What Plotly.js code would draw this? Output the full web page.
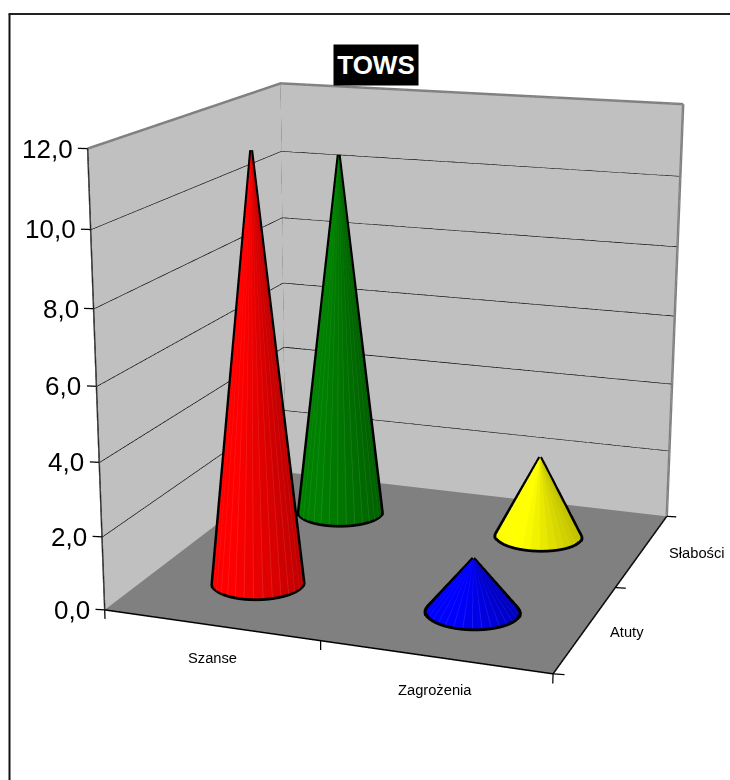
<!DOCTYPE html>
<html><head><meta charset="utf-8">
<script src="https://cdn.plot.ly/plotly-3.0.1.min.js"></script>
<style>html,body{margin:0;padding:0;background:#fff;overflow:hidden}
#w{position:relative;width:730px;height:780px;overflow:hidden}
#c{position:absolute;left:-526px;top:-498px;width:1799px;height:1799px}</style></head>
<body><div id="w"><div id="c"></div></div>
<script>
const categories = ["Szanse", "Zagrożenia"];
const depthLabels = ["Atuty", "Słabości"];
const valueTicks = [0, 2, 4, 6, 8, 10, 12];
const tickLabels = ["0,0", "2,0", "4,0", "6,0", "8,0", "10,0", "12,0"];
const atutyValues = [11.65, 1.5];
const slabosciValues = [10.55, 2.38];
const atutyColors = [[255, 0, 0], [0, 0, 255]];
const slabosciColors = [[0, 128, 0], [255, 255, 0]];

const S = 1799, L = -526, T = -498;
const px = v => (v - L) / S, py = v => 1 - (v - T) / S;
const sx = 0.8991 / 2, sy = 0.9162 / 2, sz = 0.9 / 12;
const xr = [-0.15, 2.15], yr = [-0.15, 2.15], zr = [-0.6, 12.2];
const mid = r => (r[0] + r[1]) / 2;
const off = [(1 - mid(xr)) * sx, (1 - mid(yr)) * sy, (6 - mid(zr)) * sz];
const yaw = 0.3524, pitch = 0.2826;
const eyeRel = [1.3946, -3.9641, 1.1106];
const fwd = [-Math.sin(yaw) * Math.cos(pitch), Math.cos(yaw) * Math.cos(pitch), -Math.sin(pitch)];
const ctrRel = eyeRel.map((v, i) => v + 4 * fwd[i]);
const eyeFloor = [eyeRel[0], eyeRel[1], eyeRel[2] + 0.45];
const rightDir = [Math.cos(yaw), Math.sin(yaw)];
const R = 0.09, N = 30;

function cone(i, j, v, rgb) {
  const cx = i + 0.5, cy = j + 0.5;
  const xs = [cx], ys = [cy], zs = [v], a = [], b = [], c = [], fc = [];
  const step = 2 * Math.PI / N;
  const angles = [];
  for (let n = 0; n < N; n++) { angles.push([n * step, false]); angles.push([(n + 0.9) * step, true]); }
  angles.forEach(([t, seam], n) => {
    xs.push(cx + R * Math.cos(t) / sx); ys.push(cy + R * Math.sin(t) / sy); zs.push(0);
    a.push(0); b.push(n + 1); c.push((n + 1) % angles.length + 1);
    const s = Math.cos(t) * rightDir[0] + Math.sin(t) * rightDir[1];
    const f = 1 - 0.25 * Math.max(0, s + 0.6) / 1.6;
    const shade = q => Math.round(seam ? q * f + (255 - q * f) * 0.12 : q * f);
    fc.push("rgb(" + rgb.map(shade).join(",") + ")");
  });
  const mesh = {type: "mesh3d", x: xs, y: ys, z: zs, i: a, j: b, k: c, facecolor: fc,
    lighting: {ambient: 1, diffuse: 0, specular: 0, fresnel: 0}, hoverinfo: "skip", showscale: false};
  const ccx = (cx - 1) * sx, ccy = (cy - 1) * sy, H = v * sz;
  const f = eyeFloor[2] / (eyeFloor[2] - H);
  const ex = eyeFloor[0] + (ccx - eyeFloor[0]) * f, ey = eyeFloor[1] + (ccy - eyeFloor[1]) * f;
  const phi = Math.atan2(ey - ccy, ex - ccx), D = Math.hypot(ex - ccx, ey - ccy), al = Math.acos(R / D);
  const psi = Math.atan2(eyeFloor[1] - ccy, eyeFloor[0] - ccx);
  let a0 = phi + al, a1 = phi - al + 2 * Math.PI;
  if (Math.cos(psi - (a0 + a1) / 2) < 0) { a0 = phi - al; a1 = phi + al; }
  const ox = [cx], oy = [cy], oz = [v];
  for (let n = 0; n <= 30; n++) {
    const t = a0 + (a1 - a0) * n / 30;
    ox.push(cx + 1.01 * R * Math.cos(t) / sx); oy.push(cy + 1.01 * R * Math.sin(t) / sy); oz.push(0.02);
  }
  ox.push(cx); oy.push(cy); oz.push(v);
  return [mesh, {type: "scatter3d", mode: "lines", x: ox, y: oy, z: oz, line: {color: "#000", width: 8}, hoverinfo: "skip", showlegend: false}];
}
function quad(x, y, z, color) {
  return {type: "mesh3d", x, y, z, i: [0, 0], j: [1, 2], k: [2, 3], color,
    lighting: {ambient: 1, diffuse: 0, specular: 0, fresnel: 0}, hoverinfo: "skip"};
}
function line(x, y, z, color, width) {
  return {type: "scatter3d", mode: "lines", x, y, z, line: {color: color || "#000", width: width || 1}, hoverinfo: "skip", showlegend: false};
}
const zTop = valueTicks[valueTicks.length - 1];
const traces = [
  quad([0, 2, 2, 0], [0, 0, 2, 2], [0, 0, 0, 0], "#808080"),
  quad([0, 0, 0, 0], [0, 2, 2, 0], [0, 0, zTop, zTop], "#c0c0c0"),
  quad([0, 2, 2, 0], [2, 2, 2, 2], [0, 0, zTop, zTop], "#c0c0c0")
];
valueTicks.slice(1, -1).forEach(v => traces.push(line([0, 0, 2], [0, 2, 2], [v, v, v], "#000", 2.5)));
traces.push(line([0, 0, 2], [0, 2, 2], [zTop, zTop, zTop], "#808080", 5));
traces.push(line([0, 0], [2, 2], [0, zTop], "#808080", 5));
traces.push(line([2, 2], [2, 2], [0, zTop], "#808080", 5));
traces.push(line([0, 0], [0, 0], [0, zTop], "#222", 3));
traces.push(line([0, 2, 2], [0, 0, 2], [0, 0, 0], "#000", 3));
valueTicks.forEach(v => traces.push(line([0, -0.04], [0, -0.008], [v, v], "#000", 2.5)));
[0, 1, 2].forEach(x => traces.push(line([x, x], [0, 0], [0, -0.25], "#000", 2.5)));
[0, 1, 2].forEach(y => traces.push(line([2, 2.045], [y, y + 0.008], [0, 0], "#000", 2.5)));
[[0, atutyValues, atutyColors], [1, slabosciValues, slabosciColors]].forEach(([row, vals, cols]) => {
  vals.forEach((v, c) => cone(c, row, v, cols[c]).forEach(t => traces.push(t)));
});
const font = size => ({family: "Liberation Sans, Arial, sans-serif", size, color: "#000"});
const annotations = [];
valueTicks.forEach((v, n) => annotations.push({x: 0, y: 0, z: v, text: tickLabels[n], showarrow: false, xanchor: "right", xshift: -13, font: font(26)}));
categories.forEach((c, n) => annotations.push({x: n + 0.5, y: 0, z: 0, text: c, showarrow: false, xshift: 2 - 2 * n, yshift: -33, font: font(14.7)}));
depthLabels.forEach((c, n) => annotations.push({x: 2, y: n + 0.5, z: 0, text: c, showarrow: false, xanchor: "left", xshift: 22 + 3 * n, yshift: -3, font: font(14.7)}));
const hid = {visible: false, showgrid: false, zeroline: false, showspikes: false, showbackground: false};
const layout = {
  width: S, height: S, paper_bgcolor: "rgba(0,0,0,0)", showlegend: false, hovermode: false,
  margin: {l: 0, r: 0, t: 0, b: 0},
  annotations: [{xref: "paper", yref: "paper", x: px(376), y: py(65), xanchor: "center", yanchor: "middle", text: "<b>TOWS</b>", showarrow: false,
    bgcolor: "#000", width: 84, height: 40, borderpad: 0, font: {family: "Liberation Sans, Arial, sans-serif", size: 26, color: "#fff"}}],
  shapes: [{type: "line", xref: "paper", yref: "paper", x0: px(9.5), x1: px(9.5), y0: py(14), y1: py(780), line: {color: "#111", width: 2}},
           {type: "line", xref: "paper", yref: "paper", x0: px(8.5), x1: px(730), y0: py(14), y1: py(14), line: {color: "#222", width: 2}}],
  scene: {
    domain: {x: [0, 1], y: [0, 1]},
    bgcolor: "rgba(0,0,0,0)",
    xaxis: Object.assign({range: xr}, hid),
    yaxis: Object.assign({range: yr}, hid),
    zaxis: Object.assign({range: zr}, hid),
    aspectmode: "manual",
    aspectratio: {x: (xr[1] - xr[0]) * sx, y: (yr[1] - yr[0]) * sy, z: (zr[1] - zr[0]) * sz},
    camera: {eye: {x: off[0] + eyeRel[0], y: off[1] + eyeRel[1], z: off[2] + eyeRel[2]},
      center: {x: off[0] + ctrRel[0], y: off[1] + ctrRel[1], z: off[2] + ctrRel[2]},
      up: {x: 0, y: 0, z: 1}, projection: {type: "perspective"}},
    annotations
  }
};
Plotly.newPlot("c", traces, layout, {displayModeBar: false});
</script></body></html>
